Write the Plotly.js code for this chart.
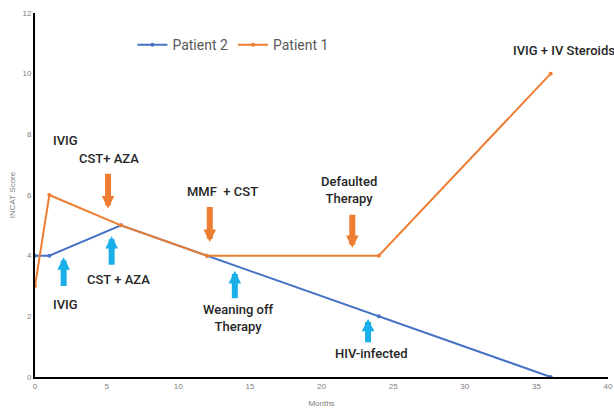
<!DOCTYPE html>
<html>
<head>
<meta charset="utf-8">
<script src="https://cdn.plot.ly/plotly-3.0.1.min.js"></script>
<style>html,body{margin:0;padding:0;background:#fff}#chart{width:614px;height:411px}</style>
</head>
<body>
<div id="chart"></div>
<script>
// Data
var months = [0, 1, 6, 12, 24, 36];
var patient2 = [4, 4, 5, 4, 2, 0];
var patient1 = [3, 6, 5, 4, 4, 10];

// Text labels [text, x, y]
var labelText = ["IVIG", "CST+ AZA", "IVIG", "CST + AZA", "MMF  + CST", "Defaulted<br>Therapy", "Weaning off<br>Therapy", "HIV-infected", "IVIG + IV Steroids"];
var labelX = [2.15, 5.2, 2.15, 5.8, 13.1, 21.9, 14.2, 23.5, 36.95];
var labelY = [7.8, 7.2, 2.4, 3.22, 6.12, 6.15, 1.95, 0.76, 10.78];

// Arrows: tail (x0,y0) -> tip (x1,y1)
var arrowX0 = [5.1, 12.2, 22.15, 2.0, 5.35, 13.95, 23.25];
var arrowY0 = [6.75, 5.65, 5.4, 2.95, 3.65, 2.55, 1.1];
var arrowX1 = [5.1, 12.2, 22.15, 2.0, 5.35, 13.95, 23.25];
var arrowY1 = [5.55, 4.45, 4.25, 3.95, 4.65, 3.5, 1.92];
var arrowColor = ["#ED7D31", "#ED7D31", "#ED7D31", "#1AAFE8", "#1AAFE8", "#1AAFE8", "#1AAFE8"];

var textFont = {family: "Roboto, Liberation Sans, Arial", size: 13, color: "#262626", weight: 500};

var annotations = [];
for (var i = 0; i < labelText.length; i++) {
  annotations.push({x: labelX[i], y: labelY[i], xref: "x", yref: "y", text: labelText[i], showarrow: false, font: textFont, align: "center"});
}
for (var j = 0; j < arrowX0.length; j++) {
  annotations.push({x: arrowX1[j], y: arrowY1[j], ax: arrowX0[j], ay: arrowY0[j], xref: "x", yref: "y", axref: "x", ayref: "y", text: "", showarrow: true, arrowhead: 2, arrowsize: 0.42, arrowwidth: 6, arrowcolor: arrowColor[j], standoff: 0});
}

var traces = [
  {x: months, y: patient2, name: "Patient 2", type: "scatter", mode: "lines+markers", line: {color: "#4472C4", width: 2}, marker: {color: "#4472C4", size: 4}},
  {x: months, y: patient1, name: "Patient 1", type: "scatter", mode: "lines+markers", line: {color: "#ED7D31", width: 2}, marker: {color: "#ED7D31", size: 4}}
];

var layout = {
  width: 614, height: 411,
  margin: {l: 35, r: 6, t: 13, b: 34},
  paper_bgcolor: "#fff", plot_bgcolor: "#fff",
  showlegend: true,
  legend: {orientation: "h", x: 0.17, y: 0.912, xanchor: "left", yanchor: "middle", font: {family: "Roboto, Liberation Sans, Arial", size: 14, color: "#595959"}, bgcolor: "rgba(0,0,0,0)"},
  xaxis: {range: [0, 40], dtick: 5, tick0: 0, showgrid: false, zeroline: false, showline: true, linecolor: "#000", linewidth: 2, ticks: "", tickfont: {family: "Liberation Sans", size: 8, color: "#808080"}, title: {text: "Months", font: {family: "Liberation Sans", size: 8, color: "#808080"}, standoff: 11}},
  yaxis: {range: [0, 12], dtick: 2, tick0: 0, showgrid: false, zeroline: false, showline: true, linecolor: "#000", linewidth: 2, ticks: "", tickfont: {family: "Liberation Sans", size: 8, color: "#808080"}, title: {text: "INCAT Score", font: {family: "Liberation Sans", size: 8, color: "#808080"}, standoff: 6}},
  annotations: annotations
};

Plotly.newPlot("chart", traces, layout, {displayModeBar: false, staticPlot: true});
</script>
</body>
</html>
